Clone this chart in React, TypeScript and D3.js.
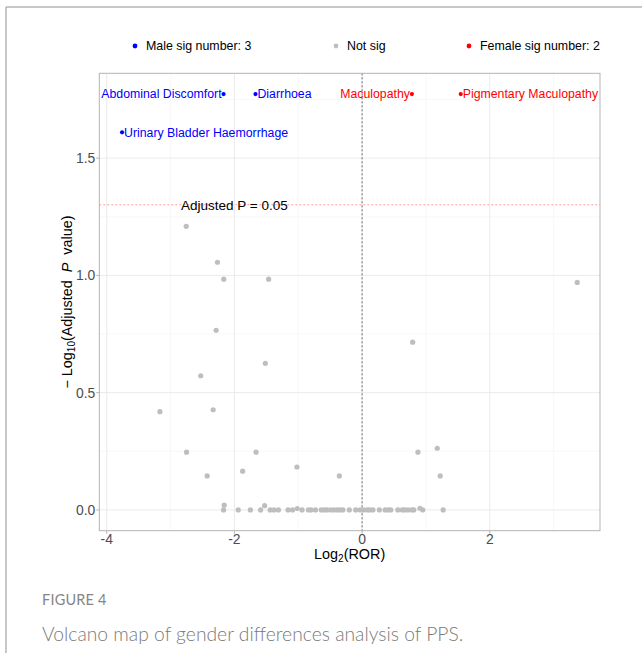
import React from "react";
import * as d3 from "d3";

// ---- data ----
const sigNames = ["Abdominal Discomfort", "Diarrhoea", "Urinary Bladder Haemorrhage", "Maculopathy", "Pigmentary Maculopathy"];
const sigX = [-2.17, -1.67, -3.76, 0.78, 1.545];
const sigY = [1.773, 1.773, 1.61, 1.773, 1.773];
const sigGroup = ["Male", "Male", "Male", "Female", "Female"];
const sigLabelSide = ["left", "right", "right", "left", "right"];

const notSigX = [
  -2.755, -2.266, -2.167, -1.464, -2.286, -1.516, -2.527, -3.167, -2.333, -2.75,
  -1.661, -2.427, -1.871, -1.021, -0.356, 3.37, 0.792, 0.875, 1.177, 1.224,
  -2.16, -1.527, -1.016, 0.906,
  -2.17, -1.94, -1.75, -1.59, -1.44, -1.38, -1.31, -1.16, -1.09, -0.94,
  -0.84, -0.8, -0.73, -0.64, -0.59, -0.55, -0.49, -0.44, -0.39, -0.34,
  -0.3, -0.2, -0.1, -0.03, 0.02, 0.08, 0.12, 0.17, 0.27, 0.36,
  0.41, 0.45, 0.56, 0.63, 0.67, 0.72, 0.78, 0.81, 0.95, 1.27,
];
const notSigY = [
  1.209, 1.056, 0.984, 0.984, 0.766, 0.625, 0.572, 0.419, 0.427, 0.246,
  0.246, 0.145, 0.165, 0.183, 0.145, 0.97, 0.715, 0.246, 0.263, 0.145,
  0.02, 0.018, 0.006, 0.007,
  0, 0, 0, 0, 0, 0, 0, 0, 0, 0,
  0, 0, 0, 0, 0, 0, 0, 0, 0, 0,
  0, 0, 0, 0, 0, 0, 0, 0, 0, 0,
  0, 0, 0, 0, 0, 0, 0, 0, 0, 0,
];

const legendLabels = ["Male sig number: 3", "Not sig", "Female sig number: 2"];
const xTicks = [-4, -2, 0, 2];
const yTicks = [0, 0.5, 1.0, 1.5];
const pThreshold = 0.05;

const W = 642;
const H = 653;
const FONT = "'Liberation Sans', Arial, Helvetica, sans-serif";

const groupColor: Record<string, string> = { Male: "#0000FF", Female: "#FF0000", Not: "#BEBEBE" };

export default function App() {
  const panel = { left: 99.3, right: 600, top: 73.3, bottom: 530.7 };

  const allX = [...sigX, ...notSigX];
  const allY = [...sigY, ...notSigY];
  const [x0, x1] = d3.extent(allX) as [number, number];
  const [y0, y1] = d3.extent(allY) as [number, number];
  const ex = (x1 - x0) * 0.05;
  const ey = (y1 - y0) * 0.05;

  const x = d3.scaleLinear().domain([x0 - ex, x1 + ex]).range([panel.left, panel.right]);
  const y = d3.scaleLinear().domain([y0 - ey, y1 + ey]).range([panel.bottom, panel.top]);

  const xMinor = d3.range(-3, 4, 2);
  const yMinor = [0.25, 0.75, 1.25, 1.75];
  const thrY = y(-Math.log10(pThreshold));

  const legendX = [135, 336, 469];
  const legendColors = [groupColor.Male, groupColor.Not, groupColor.Female];

  return (
    <svg width={W} height={H} style={{ position: "absolute", left: 0, top: 0, background: "#fff" }}>
      <rect x={0} y={0} width={W} height={H} fill="#fff" />
      {/* page border */}
      <line x1={6} y1={7} x2={W} y2={7} stroke="#b4b4b4" strokeWidth={1.5} />
      <line x1={6} y1={7} x2={6} y2={H} stroke="#b4b4b4" strokeWidth={1.5} />

      {/* legend */}
      {legendLabels.map((l, i) => (
        <g key={l}>
          <circle cx={legendX[i]} cy={46} r={2.4} fill={legendColors[i]} />
          <text x={legendX[i] + 11} y={46} dy="0.35em" fontFamily={FONT} fontSize={12.4} fill="#000">
            {l}
          </text>
        </g>
      ))}

      {/* grid */}
      <g>
        {xMinor.map((v) => (
          <line key={"xm" + v} x1={x(v)} x2={x(v)} y1={panel.top} y2={panel.bottom} stroke="#f3f3f3" strokeWidth={0.6} />
        ))}
        {yMinor.map((v) => (
          <line key={"ym" + v} x1={panel.left} x2={panel.right} y1={y(v)} y2={y(v)} stroke="#f3f3f3" strokeWidth={0.6} />
        ))}
        {xTicks.map((v) => (
          <line key={"xg" + v} x1={x(v)} x2={x(v)} y1={panel.top} y2={panel.bottom} stroke="#ebebeb" strokeWidth={1} />
        ))}
        {yTicks.map((v) => (
          <line key={"yg" + v} x1={panel.left} x2={panel.right} y1={y(v)} y2={y(v)} stroke="#ebebeb" strokeWidth={1} />
        ))}
      </g>

      {/* reference lines */}
      <line x1={panel.left} x2={panel.right} y1={thrY} y2={thrY} stroke="#ff9a9a" strokeWidth={1} strokeDasharray="2,2" />
      <line x1={x(0)} x2={x(0)} y1={panel.top} y2={panel.bottom} stroke="#6a6a6a" strokeWidth={1} strokeDasharray="2,2" />
      <text x={x(-2)} y={thrY} dy="0.35em" textAnchor="middle" fontFamily={FONT} fontSize={13.5} fill="#000">
        Adjusted P = 0.05
      </text>

      {/* not sig points */}
      {notSigX.map((v, i) => (
        <circle key={"n" + i} cx={x(v)} cy={y(notSigY[i])} r={2.6} fill={groupColor.Not} />
      ))}

      {/* sig points + labels */}
      {sigNames.map((n, i) => {
        const cx = x(sigX[i]);
        const cy = y(sigY[i]);
        const c = groupColor[sigGroup[i]];
        const left = sigLabelSide[i] === "left";
        return (
          <g key={n}>
            <circle cx={cx} cy={cy} r={2.1} fill={c} />
            <text
              x={left ? cx - 2 : cx + 2}
              y={cy}
              dy="0.35em"
              textAnchor={left ? "end" : "start"}
              fontFamily={FONT}
              fontSize={12.3}
              fill={c}
            >
              {n}
            </text>
          </g>
        );
      })}

      {/* panel border */}
      <rect x={panel.left} y={panel.top} width={panel.right - panel.left} height={panel.bottom - panel.top} fill="none" stroke="#b3b3b3" strokeWidth={1} />

      {/* axes ticks */}
      {xTicks.map((v) => (
        <g key={"xt" + v}>
          <line x1={x(v)} x2={x(v)} y1={panel.bottom} y2={panel.bottom + 3} stroke="#b3b3b3" />
          <text x={x(v)} y={panel.bottom + 13} textAnchor="middle" fontFamily={FONT} fontSize={13.9} fill="#4d4d4d">
            {String(v)}
          </text>
        </g>
      ))}
      {yTicks.map((v) => (
        <g key={"yt" + v}>
          <line x1={panel.left - 3} x2={panel.left} y1={y(v)} y2={y(v)} stroke="#b3b3b3" />
          <text x={panel.left - 4} y={y(v)} dy="0.35em" textAnchor="end" fontFamily={FONT} fontSize={13.9} fill="#4d4d4d">
            {d3.format(".1f")(v)}
          </text>
        </g>
      ))}

      {/* axis titles */}
      <text x={(panel.left + panel.right) / 2} y={559} textAnchor="middle" fontFamily={FONT} fontSize={14.4} fill="#000">
        Log<tspan fontSize={10} dy={3}>2</tspan>
        <tspan dy={-3}>(ROR)</tspan>
      </text>
      <text
        transform={`translate(72, ${(panel.top + panel.bottom) / 2}) rotate(-90)`}
        textAnchor="middle"
        fontFamily={FONT}
        fontSize={14.4}
        fill="#000"
        style={{ whiteSpace: "pre" }}
      >
        {"− Log"}
        <tspan fontSize={10} dy={3}>10</tspan>
        <tspan dy={-3}>{"(Adjusted  "}</tspan>
        <tspan fontStyle="italic">P</tspan>
        <tspan>{"  value)"}</tspan>
      </text>

      {/* caption */}
      <text x={42} y={605} fontFamily="Lato, 'Open Sans', sans-serif" fontSize={14.5} fill="#858585" letterSpacing={0.2}>
        FIGURE 4
      </text>
      <text x={42} y={641} fontFamily="Lato, 'Open Sans', sans-serif" fontSize={19.3} fill="#7a7a7a" fontWeight={300}>
        Volcano map of gender differences analysis of PPS.
      </text>
    </svg>
  );
}
